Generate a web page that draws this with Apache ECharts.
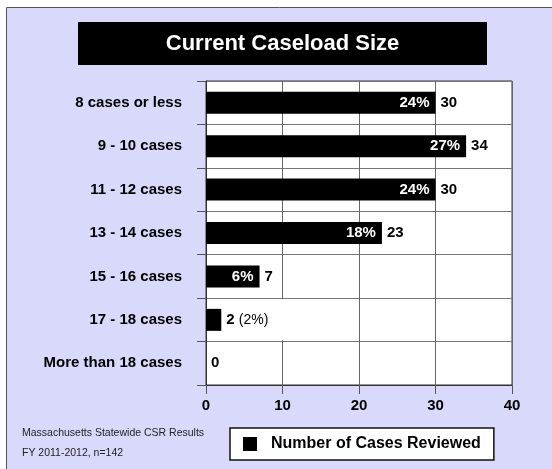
<!DOCTYPE html>
<html>
<head>
<meta charset="utf-8">
<script src="https://cdn.jsdelivr.net/npm/echarts@6/dist/echarts.min.js"></script>
<style>
  html, body { margin: 0; padding: 0; background: #fff; }
  #chart { width: 552px; height: 469px; }
</style>
</head>
<body>
<div id="chart"></div>
<script>
// chart data
const categories = ['8 cases or less', '9 - 10 cases', '11 - 12 cases', '13 - 14 cases',
  '15 - 16 cases', '17 - 18 cases', 'More than 18 cases']
const caseCounts = [30, 34, 30, 23, 7, 2, 0]
const casePercents = [24, 27, 24, 18, 6, 2, 0]
const seriesName = 'Number of Cases Reviewed'
const footnotes = ['Massachusetts Statewide CSR Results', 'FY 2011-2012, n=142']

const font = '"Liberation Sans", Arial, sans-serif'

const chart = echarts.init(document.getElementById('chart'), null, { renderer: 'canvas' })

// counts shown to the right of each bar; small bars also get the % in brackets
const countData = caseCounts.map((v, i) => {
  const p = casePercents[i]
  if (p > 0 && p < 5) {
    return {
      value: v,
      label: {
        formatter: '{b|' + v + '} {r|(' + p + '%)}',
        backgroundColor: '#fff',
        padding: [13, 17, 13, 0]
      }
    }
  }
  return v
})

chart.setOption({
  animation: false,
  backgroundColor: '#fff',
  textStyle: { fontFamily: font },
  graphic: [
    {
      type: 'rect', z: -10, silent: true,
      shape: { x: 6.5, y: 7.5, width: 600, height: 600 },
      style: { fill: '#d9d9fb', stroke: '#555', lineWidth: 1 }
    },
    {
      type: 'rect', z: 1,
      shape: { x: 78, y: 22, width: 409, height: 43 },
      style: { fill: '#000' }
    },
    {
      type: 'text', z: 2, x: 282.5, y: 44,
      style: {
        text: 'Current Caseload Size', fill: '#fff', font: 'bold 22px ' + font,
        align: 'center', verticalAlign: 'middle'
      }
    },
    {
      type: 'text', x: 22, y: 433,
      style: { text: footnotes[0], fill: '#222', font: '10.5px ' + font, verticalAlign: 'middle' }
    },
    {
      type: 'text', x: 22, y: 453,
      style: { text: footnotes[1], fill: '#222', font: '10.5px ' + font, verticalAlign: 'middle' }
    }
  ],
  grid: {
    left: 206, right: 40, top: 81, bottom: 84,
    show: true, backgroundColor: '#fff', borderColor: '#333', borderWidth: 1
  },
  legend: {
    data: [seriesName],
    left: 230, top: 428,
    padding: [8, 13, 8, 13],
    icon: 'rect', itemWidth: 14, itemHeight: 14,
    backgroundColor: '#fff', borderColor: '#111', borderWidth: 1.5,
    textStyle: { fontSize: 16, fontWeight: 'bold', color: '#000', padding: [0, 0, 0, 9] }
  },
  xAxis: {
    type: 'value', min: 0, max: 40, interval: 10,
    axisLine: { show: true, lineStyle: { color: '#333' } },
    axisTick: { show: true, length: 9, lineStyle: { color: '#555' } },
    splitLine: { show: true, lineStyle: { color: '#666', width: 1 } },
    axisLabel: { color: '#000', fontSize: 15, fontWeight: 'bold', margin: 13 }
  },
  yAxis: {
    type: 'category', data: categories, inverse: true,
    axisLine: { show: true, lineStyle: { color: '#333' } },
    axisTick: { show: true, length: 9, lineStyle: { color: '#555' } },
    splitLine: { show: true, lineStyle: { color: '#777', width: 1 } },
    axisLabel: { color: '#000', fontSize: 15, fontWeight: 'bold', margin: 24 }
  },
  series: [
    {
      name: seriesName, type: 'bar', data: caseCounts, barWidth: 22,
      itemStyle: { color: '#000' }, silent: true,
      label: {
        show: true, position: 'insideRight', distance: 6,
        color: '#fff', fontSize: 15, fontWeight: 'bold',
        formatter: p => casePercents[p.dataIndex] >= 5 ? casePercents[p.dataIndex] + '%' : ''
      }
    },
    {
      name: 'count', type: 'bar', data: countData, barWidth: 22, barGap: '-100%',
      itemStyle: { color: 'rgba(0,0,0,0)' }, silent: true,
      label: {
        show: true, position: 'right', distance: 5,
        color: '#000', fontSize: 15, fontWeight: 'bold',
        rich: {
          b: { fontSize: 15, fontWeight: 'bold', color: '#000' },
          r: { fontSize: 14, fontWeight: 'normal', color: '#000' }
        }
      }
    }
  ]
})
</script>
</body>
</html>
